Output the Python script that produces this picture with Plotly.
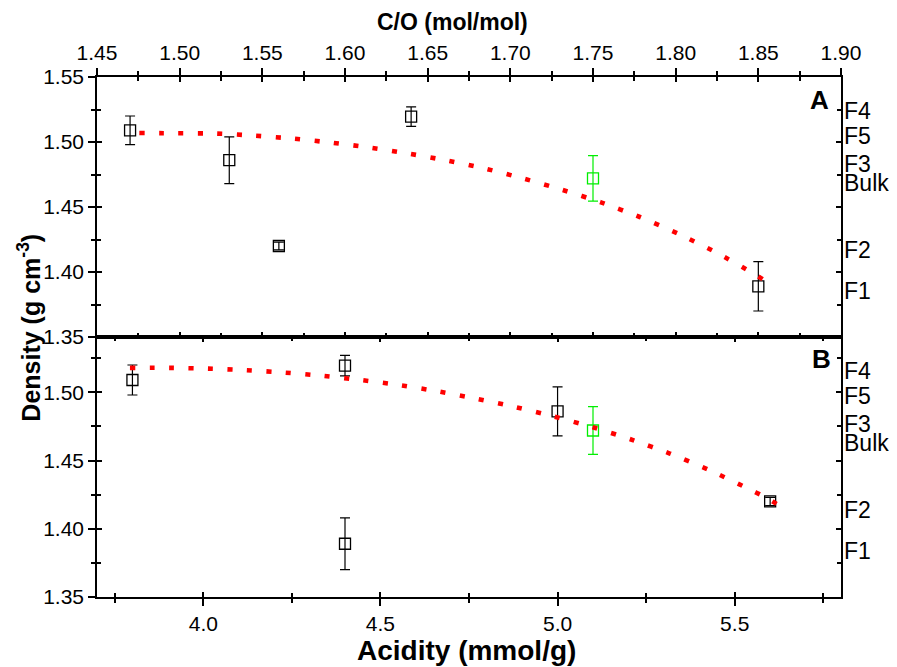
import plotly.graph_objects as go

# ---------------- data ----------------
sample_names = ["F5", "F3", "F2", "F4", "Bulk", "F1"]
co_ratio = [1.47, 1.53, 1.56, 1.64, 1.75, 1.85]          # C/O (mol/mol)
acidity = [3.80, 5.00, 5.60, 4.40, 5.10, 4.40]           # mmol/g
density = [1.509, 1.486, 1.420, 1.5195, 1.472, 1.389]    # g cm-3
density_err = [0.011, 0.018, 0.003, 0.0075, 0.0175, 0.019]

# fitted trend curve (panel A, vs C/O)
fit_co_x = [1.4756, 1.4986, 1.5220, 1.5452, 1.5686, 1.5918, 1.6153, 1.6384, 1.6619,
            1.6849, 1.7082, 1.7317, 1.7548, 1.7783, 1.8015, 1.8247, 1.8479, 1.8596]
fit_co_y = [1.5069, 1.5067, 1.5065, 1.5049, 1.5026, 1.4995, 1.4957, 1.4911, 1.4857,
            1.4795, 1.4718, 1.4631, 1.4536, 1.4423, 1.4295, 1.4149, 1.3982, 1.3888]
# fitted trend curve (panel B, vs acidity)
fit_acid_x = [3.7930, 3.9051, 4.0132, 4.1217, 4.2306, 4.3391, 4.4472, 4.5565, 4.6654,
              4.7719, 4.8820, 4.9901, 5.0994, 5.2075, 5.3168, 5.4249, 5.5333, 5.5878, 5.6423]
fit_acid_y = [1.5179, 1.5179, 1.5173, 1.5162, 1.5144, 1.5120, 1.5089, 1.5052, 1.5005,
              1.4952, 1.4891, 1.4822, 1.4744, 1.4654, 1.4551, 1.4434, 1.4300, 1.4229, 1.4144]

side_labels = ["F4", "F5", "F3", "Bulk", "F2", "F1"]
panel_letters = ["A", "B"]

# ---------------- layout / style ----------------
FONT = "Liberation Sans, Arial, sans-serif"
side_label_frac = [0.869, 0.7714, 0.6639, 0.5935, 0.3362, 0.176]   # positions within panel height
BLACK = "#000000"
GREEN = "#00ee00"

fig = go.Figure()


def add_panel(xvals, xref, yref, fx, fy):
    for is_bulk, col in [(False, BLACK), (True, GREEN)]:
        idx = [i for i, n in enumerate(sample_names) if (n == "Bulk") == is_bulk]
        fig.add_trace(go.Scatter(
            x=[xvals[i] for i in idx], y=[density[i] for i in idx],
            xaxis=xref, yaxis=yref, mode="markers",
            marker=dict(symbol="square-open", size=11, color=col, line=dict(width=1.3, color=col)),
            error_y=dict(type="data", array=[density_err[i] for i in idx], visible=True,
                         color=col, thickness=1.2, width=5),
            showlegend=False, hoverinfo="skip"))
    fig.add_trace(go.Scatter(
        x=fx, y=fy, xaxis=xref, yaxis=yref, mode="lines",
        line=dict(color="#ff0000", width=4.6, dash="5px,14.5px", shape="spline", smoothing=0.6),
        showlegend=False, hoverinfo="skip"))


add_panel(co_ratio, "x", "y", fit_co_x, fit_co_y)
add_panel(acidity, "x2", "y2", fit_acid_x, fit_acid_y)

# empty traces so the twin (inside-tick) axes are drawn
fig.add_trace(go.Scatter(x=[None], y=[None], xaxis="x3", yaxis="y3", showlegend=False, hoverinfo="skip"))
fig.add_trace(go.Scatter(x=[None], y=[None], xaxis="x4", yaxis="y4", showlegend=False, hoverinfo="skip"))


def ax(**kw):
    d = dict(showline=True, linecolor=BLACK, linewidth=1.6, ticks="outside", ticklen=7,
             tickwidth=1.6, tickcolor=BLACK, mirror=True, showgrid=False, zeroline=False,
             tickfont=dict(family=FONT, size=21, color=BLACK), fixedrange=True)
    d.update(kw)
    return d


def twin(base, **kw):
    d = dict(base)
    d.update(dict(ticks="inside", ticklen=5, showticklabels=False, showline=False, mirror="allticks"))
    mn = dict(d.get("minor", {}))
    mn.update(ticks="inside", ticklen=4)
    d["minor"] = mn
    d.update(kw)
    return d


MINOR = dict(ticks="outside", ticklen=4, tickwidth=1.6, tickcolor=BLACK)
xa1 = ax(range=[1.45, 1.90], tick0=1.45, dtick=0.05, tickformat=".2f", side="top", anchor="y",
         domain=[0, 1], minor=dict(MINOR, dtick=0.025))
ya1 = ax(range=[1.35, 1.55], tick0=1.35, dtick=0.05, tickformat=".2f", anchor="x", domain=[0.5, 1],
         minor=dict(MINOR, dtick=0.025))
xa2 = ax(range=[3.70, 5.80], tick0=4.0, dtick=0.5, tickformat=".1f", side="bottom", anchor="y2",
         domain=[0, 1], minor=dict(MINOR, dtick=0.25))
ya2 = ax(range=[1.35, 1.5405], tick0=1.35, dtick=0.05, tickformat=".2f", anchor="x2", domain=[0, 0.5],
         minor=dict(MINOR, dtick=0.025))

# the page body adds an 8px offset; margins compensate so the plot area lands where the reference has it
fig.update_layout(
    width=897, height=667,
    margin=dict(l=89, r=64, t=69, b=78),
    paper_bgcolor="white", plot_bgcolor="white",
    font=dict(family=FONT, color=BLACK),
    xaxis=xa1, yaxis=ya1, xaxis2=xa2, yaxis2=ya2,
    xaxis3=twin(xa1, overlaying="x", anchor="y"),
    yaxis3=twin(ya1, overlaying="y", anchor="x"),
    xaxis4=twin(xa2, overlaying="x2", anchor="y2"),
    yaxis4=twin(ya2, overlaying="y2", anchor="x2"),
)

ann = []
# axis titles
ann.append(dict(text="<b>C/O (mol/mol)</b>", xref="paper", yref="paper", x=0.4778, y=1.106,
                xanchor="center", yanchor="middle", showarrow=False,
                font=dict(family=FONT, size=23, color=BLACK)))
ann.append(dict(text="<b>Acidity (mmol/g)</b>", xref="paper", yref="paper", x=0.496, y=-0.102,
                xanchor="center", yanchor="middle", showarrow=False,
                font=dict(family=FONT, size=28, color=BLACK)))
ann.append(dict(text="<b>Density (g cm<sup>-3</sup>)</b>", xref="paper", yref="paper", x=-0.0914, y=0.518,
                xanchor="center", yanchor="middle", showarrow=False, textangle=-90,
                font=dict(family=FONT, size=25, color=BLACK)))
# panel letters
for letter, xr, yr, xf, yf in [(panel_letters[0], "x domain", "y domain", 0.9866, 0.9105),
                               (panel_letters[1], "x2 domain", "y2 domain", 0.9892, 0.9143)]:
    ann.append(dict(text="<b>%s</b>" % letter, xref=xr, yref=yr, x=xf, y=yf, xanchor="right",
                    yanchor="middle", showarrow=False, font=dict(family=FONT, size=26, color=BLACK)))
# right-side fraction labels
for xr, yr in [("x domain", "y domain"), ("x2 domain", "y2 domain")]:
    for lab, f in zip(side_labels, side_label_frac):
        ann.append(dict(text=lab, xref=xr, yref=yr, x=1.0, y=f, xshift=2, xanchor="left",
                        yanchor="middle", showarrow=False, borderpad=0,
                        font=dict(family=FONT, size=23, color=BLACK)))
fig.update_layout(annotations=ann)

fig.write_html("out.html")
